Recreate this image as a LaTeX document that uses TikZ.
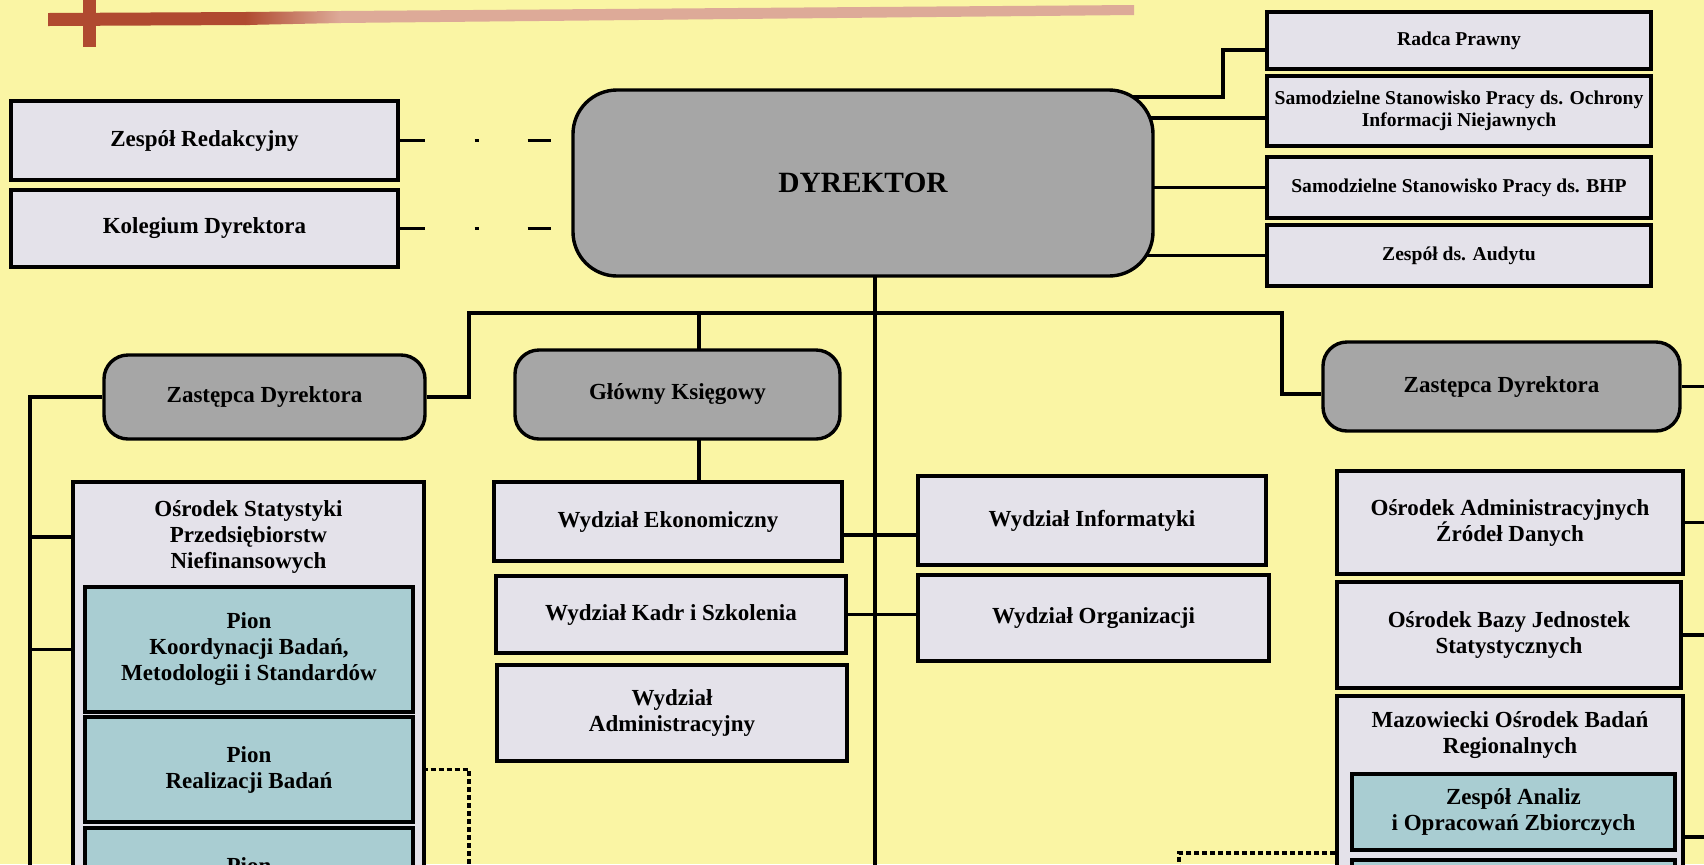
\documentclass[tikz,border=0pt]{standalone}
\usepackage{fontspec}
\setmainfont{Liberation Serif}
\usetikzlibrary{backgrounds}

\definecolor{paper}{HTML}{FAF5A4}
\definecolor{boxgray}{HTML}{E4E2EA}
\definecolor{headgray}{HTML}{A6A6A6}
\definecolor{piongreen}{HTML}{A9CDD2}
\definecolor{barred}{HTML}{B04A30}
\definecolor{barpink}{HTML}{DDAA98}

\begin{document}
\begin{tikzpicture}[
  x=0.5pt, y=-0.5pt,
  unitbox/.style={draw, line width=1.7pt, fill=boxgray, align=center, inner sep=2pt,
    font=\bfseries\fontsize{11.5}{13}\selectfont},
  headbox/.style={unitbox, fill=headgray, rounded corners=12pt},
  pionbox/.style={unitbox, fill=piongreen},
  smallbox/.style={unitbox, font=\bfseries\fontsize{9.8}{11}\selectfont},
  headtext/.style={align=center, font=\bfseries\fontsize{11.5}{13}\selectfont},
  wire/.style={line width=1.7pt},
  dotwire/.style={line width=1.8pt, dash pattern=on 2.5pt off 1.5pt},
  dashdotwire/.style={line width=1.8pt, dash pattern=on 12.5pt off 25pt on 2pt off 24.5pt on 12pt off 100pt}
]
\useasboundingbox (0,0) rectangle (1704,864);

% paper and the bar at the top
\begin{scope}[on background layer]
  \fill[paper] (0,0) rectangle (1704,864);
  \fill[barred] (48,13) -- (250,12) -- (250,25) -- (48,26) -- cycle;
  \shade[left color=barred, right color=barpink] (245,12) -- (340,11) -- (340,23) -- (245,25) -- cycle;
  \fill[barpink] (340,11) -- (1134,5) -- (1134,15) -- (340,23) -- cycle;
  \fill[barred] (83,0) rectangle (96,47);
\end{scope}

\begin{scope}
\clip (0,0) rectangle (1704,864);
% top row
\node[unitbox, minimum width=193.5pt, minimum height=39.5pt] (redakcja) at (204.5,140.5) {Zespół Redakcyjny};
\node[unitbox, minimum width=193.5pt, minimum height=38.5pt] (kolegium) at (204.5,228.5) {Kolegium Dyrektora};
\node[headbox, rounded corners=22pt, minimum width=290pt, minimum height=93pt,
  font=\bfseries\fontsize{14.7}{16}\selectfont] (dyrektor) at (863,183) {DYREKTOR};
\node[smallbox, minimum width=192pt, minimum height=28.5pt] (radca) at (1459,40.5) {Radca Prawny};
\node[smallbox, minimum width=192pt, minimum height=35pt] (ochrona) at (1459,111) {Samodzielne Stanowisko Pracy ds. Ochrony\\Informacji Niejawnych};
\node[smallbox, minimum width=192pt, minimum height=30.5pt] (bhp) at (1459,187.5) {Samodzielne Stanowisko Pracy ds. BHP};
\node[smallbox, minimum width=192pt, minimum height=30.5pt] (audyt) at (1459,255.5) {Zespół ds. Audytu};

% deputies
\node[headbox, minimum width=160.5pt, minimum height=42pt] (zastL) at (264.5,397) {Zastępca Dyrektora};
\node[headbox, minimum width=162.5pt, minimum height=44.5pt] (ksiegowy) at (677.5,394.5) {Główny Księgowy};
\node[headbox, minimum width=178.5pt, minimum height=44.5pt] (zastR) at (1501.5,386.5) {Zastępca Dyrektora};

% left column
\node[unitbox, minimum width=175.5pt, minimum height=219pt] (osrodekSt) at (248.5,701) {};
\node[headtext] (osrodekStT) at (248.5,537) {Ośrodek Statystyki\\Przedsiębiorstw\\Niefinansowych};
\node[pionbox, minimum width=164pt, minimum height=62.5pt] (pionKoord) at (249,649.5) {Pion\\Koordynacji Badań,\\Metodologii i Standardów};
\node[pionbox, minimum width=164pt, minimum height=52.5pt] (pionReal) at (249,769.5) {Pion\\Realizacji Badań};
\node[pionbox, minimum width=164pt, minimum height=38pt] (pionDol) at (249,866) {Pion};

% middle
\node[unitbox, minimum width=174pt, minimum height=39.5pt] (ekonom) at (668,521.5) {Wydział Ekonomiczny};
\node[unitbox, minimum width=175pt, minimum height=38.5pt] (kadry) at (671,614.5) {Wydział Kadr i Szkolenia};
\node[unitbox, minimum width=175pt, minimum height=48pt] (admin) at (672,713) {Wydział\\Administracyjny};
\node[unitbox, minimum width=174pt, minimum height=44.5pt] (informatyka) at (1092,520.5) {Wydział Informatyki};
\node[unitbox, minimum width=175.5pt, minimum height=43pt] (organizacja) at (1093.5,618) {Wydział Organizacji};

% right column
\node[unitbox, minimum width=173pt, minimum height=51.5pt] (zrodla) at (1510,522.5) {Ośrodek Administracyjnych\\Źródeł Danych};
\node[unitbox, minimum width=172pt, minimum height=53pt] (baza) at (1509,635) {Ośrodek Bazy Jednostek\\Statystycznych};
\node[unitbox, minimum width=173pt, minimum height=132pt] (mazow) at (1510,828) {};
\node[headtext] (mazowT) at (1510,735) {Mazowiecki Ośrodek Badań\\Regionalnych};
\node[pionbox, minimum width=161.5pt, minimum height=38pt] (analizy) at (1513.5,812) {Zespół Analiz\\i Opracowań Zbiorczych};
\node[pionbox, minimum width=161.5pt, minimum height=35pt] (zespolDol) at (1513.5,895) {};
\end{scope}

\coordinate (redEnd) at (551,140.5);
\coordinate (kolEnd) at (551,228.5);
\coordinate (radcaKnee) at (1223,97);
\coordinate (ochronaLine) at (1223,118);
\coordinate (trunk) at (875,890);
\coordinate (busL) at (469,313);
\coordinate (busR) at (1282,313);
\coordinate (gkLine) at (699,313);
\coordinate (leftBus) at (30,890);
\coordinate (crossA) at (875,535);
\coordinate (zastRLine) at (1282,394);
\coordinate (rightEdge) at (1720,0);
\coordinate (mazowLine) at (1720,837);
\coordinate (dotL) at (469,890);
\coordinate (dotRknee) at (1179,853);
\coordinate (dotR) at (1179,890);

% connectors
\begin{scope}[on background layer]
\clip (0,0) rectangle (1704,864);
\draw[dashdotwire] (redakcja.east) -- (redEnd);
\draw[dashdotwire] (kolegium.east) -- (kolEnd);
\draw[wire] (dyrektor.center |- radcaKnee) -- (radcaKnee) |- ([yshift=-4.75pt]radca.west);
\draw[wire] (dyrektor.center |- ochronaLine) -- (ochrona.west |- ochronaLine);
\draw[wire] (dyrektor.center |- bhp.west) -- (bhp.west);
\draw[wire] (dyrektor.center |- audyt.west) -- (audyt.west);
\draw[wire] (dyrektor.center -| trunk) -- (trunk);
\draw[wire] (zastL.east) -| (busL) -- (busR) -- (zastRLine) -- (zastR.west |- zastRLine);
\draw[wire] (gkLine) -- (gkLine |- ekonom.north);
\draw[wire] (zastL.west) -| (leftBus);
\draw[wire] (leftBus |- osrodekStT) -- (osrodekSt.west |- osrodekStT);
\draw[wire] (leftBus |- pionKoord) -- (osrodekSt.west |- pionKoord);
\draw[wire] (ekonom.east |- crossA) -- (informatyka.west |- crossA);
\draw[wire] (kadry.east) -- (kadry.east -| organizacja.west);
\draw[wire] (zastR.east) -- (zastR.east -| rightEdge);
\draw[wire] (zrodla.east) -- (zrodla.east -| rightEdge);
\draw[wire] (baza.east) -- (baza.east -| rightEdge);
\draw[wire] (analizy.east |- mazowLine) -- (mazowLine);
\draw[dotwire] (pionReal.east) -| (dotL);
\draw[dotwire] (mazow.west |- dotRknee) -- (dotRknee) -- (dotR);
\end{scope}
\end{tikzpicture}
\end{document}
